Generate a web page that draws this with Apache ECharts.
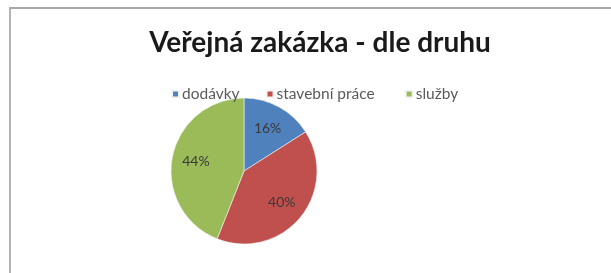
<!DOCTYPE html>
<html>
<head>
<meta charset="utf-8">
<script src="https://cdn.jsdelivr.net/npm/echarts@6/dist/echarts.min.js"></script>
<style>
  html, body { margin: 0; padding: 0; background: #fff; }
  #chart { position: absolute; left: 0; top: 0; width: 611px; height: 273px; }
  #frame {
    position: absolute; left: 9px; top: 7px; width: 602px; height: 266px;
    border-top: 2px solid #a8a8a8; border-left: 2px solid #b4b4b4;
    pointer-events: none;
  }
</style>
</head>
<body>
<div id="chart"></div>
<div id="frame"></div>
<script>
    // data
    var categories = ['dodávky', 'stavební práce', 'služby'];
    var shares = [16, 40, 44];
    var colors = ['#4F81BD', '#C0504D', '#9BBB59'];

    var pieData = categories.map(function (name, i) {
        return { name: name, value: shares[i], itemStyle: { color: colors[i] } };
    });

    var chart = echarts.init(document.getElementById('chart'));
    chart.setOption({
        animation: false,
        title: {
            text: 'Veřejná zakázka - dle druhu',
            left: 315,
            top: 24,
            textAlign: 'center',
            textStyle: {
                fontFamily: 'Lato',
                fontSize: 28,
                fontWeight: 'bold',
                color: '#1a1a1a'
            }
        },
        legend: {
            data: categories,
            left: 166,
            top: 81,
            icon: 'rect',
            itemWidth: 7,
            itemHeight: 7,
            itemGap: 26,
            // excel leaves a wider gap before the last entry
            formatter: function (name) {
                return name === categories[1] ? '{t|' + name + '}{s|\u00a0}' : '{t|' + name + '}';
            },
            textStyle: {
                fontFamily: 'Lato',
                fontSize: 15.5,
                color: '#5a5a5a',
                padding: [0, 0, 0, -2],
                rich: {
                    t: { fontFamily: 'Lato', fontSize: 15.5, color: '#5a5a5a' },
                    s: { width: 23 }
                }
            }
        },
        series: [{
            type: 'pie',
            center: [244, 171],
            radius: [0, 73],
            startAngle: 90,
            clockwise: true,
            data: pieData,
            label: { show: false },
            itemStyle: { borderColor: '#f4f4f4', borderWidth: 0.6 }
        }, {
            // label carrier: same values, wider ring so labels sit farther out
            type: 'pie',
            center: [244, 171],
            radius: [0, 92],
            startAngle: 90,
            clockwise: true,
            silent: true,
            data: categories.map(function (name, i) {
                return { name: name, value: shares[i] };
            }),
            itemStyle: { color: 'rgba(0,0,0,0)' },
            label: {
                show: true,
                position: 'inside',
                formatter: '{c}%',
                fontFamily: 'Lato',
                fontSize: 14,
                color: '#3a3a3a'
            },
            labelLine: { show: false }
        }]
    });
</script>
</body>
</html>
